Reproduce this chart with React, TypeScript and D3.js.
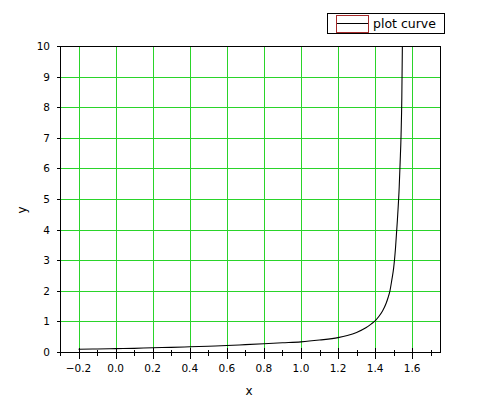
import React from "react";
import * as d3 from "d3";

const xValues = [-0.2, -0.1, 0, 0.1, 0.2, 0.3, 0.4, 0.5, 0.6, 0.7, 0.8, 0.9, 1.0, 1.1, 1.2, 1.25, 1.3, 1.35, 1.38, 1.4, 1.42, 1.44, 1.46, 1.47, 1.48, 1.49, 1.5, 1.51, 1.52, 1.53, 1.535, 1.54, 1.544, 1.547, 1.549];
const yValues = [0.088, 0.1, 0.11, 0.12, 0.14, 0.15, 0.17, 0.19, 0.21, 0.24, 0.27, 0.3, 0.33, 0.39, 0.47, 0.54, 0.64, 0.79, 0.92, 1.02, 1.16, 1.34, 1.6, 1.78, 2.0, 2.35, 2.75, 3.4, 4.3, 5.4, 6.2, 7.1, 8.3, 10, 11.5];
const xMajorTicks = [-0.2, 0, 0.2, 0.4, 0.6, 0.8, 1.0, 1.2, 1.4, 1.6];
const xMinorTicks = [-0.3, -0.1, 0.1, 0.3, 0.5, 0.7, 0.9, 1.1, 1.3, 1.5, 1.7];
const yTicks = [0, 1, 2, 3, 4, 5, 6, 7, 8, 9, 10];
const xDomain = [-0.3, 1.75];
const yDomain = [0, 10];
const seriesName = "plot curve";

const W = 489, H = 402;
const L = 60, R = 440, T = 46, B = 352;
const font = "'DejaVu Sans', Verdana, sans-serif";
const gridColor = "#2ad42a";

export default function App() {
  const x = d3.scaleLinear().domain(xDomain).range([L, R]);
  const y = d3.scaleLinear().domain(yDomain).range([B, T]);
  const data = xValues.map((v, i) => [v, yValues[i]] as [number, number]);
  const line = d3.line<[number, number]>().x(d => x(d[0])).y(d => y(d[1])).curve(d3.curveMonotoneX);
  const px = (v: number) => Math.round(x(v)) + 0.5;
  const py = (v: number) => Math.round(y(v)) + 0.5;
  return (
    <svg width={W} height={H} style={{ position: "absolute", left: 0, top: 0, background: "#fff" }}>
      <defs>
        <clipPath id="plotclip">
          <rect x={L} y={T} width={R - L} height={B - T} />
        </clipPath>
      </defs>
      <rect x={0} y={0} width={W} height={H} fill="#fff" />
      {/* grid */}
      <g shapeRendering="crispEdges">
        {xMajorTicks.map(t => (
          <line key={"gx" + t} x1={px(t)} x2={px(t)} y1={T} y2={B} stroke={gridColor} strokeWidth={1} />
        ))}
        {yTicks.filter(t => t > 0 && t < 10).map(t => (
          <line key={"gy" + t} x1={L} x2={R} y1={py(t)} y2={py(t)} stroke={gridColor} strokeWidth={1} />
        ))}
      </g>
      {/* curve */}
      <path d={line(data) || ""} fill="none" stroke="#000" strokeWidth={1.1} clipPath="url(#plotclip)" />
      {/* frame */}
      <g shapeRendering="crispEdges">
        <rect x={L + 0.5} y={T + 0.5} width={R - L} height={B - T} fill="none" stroke="#000" strokeWidth={1} />
        {xMajorTicks.map(t => (
          <line key={"tx" + t} x1={px(t)} x2={px(t)} y1={B - 4} y2={B + 7} stroke="#000" strokeWidth={1} />
        ))}
        {xMinorTicks.map(t => (
          <line key={"mx" + t} x1={px(t)} x2={px(t)} y1={B - 2} y2={B + 4} stroke="#000" strokeWidth={1} />
        ))}
        {yTicks.map(t => (
          <line key={"ty" + t} x1={L - 3} x2={L} y1={py(t)} y2={py(t)} stroke="#000" strokeWidth={1} />
        ))}
      </g>
      {xMajorTicks.map(t => (
        <text key={"lx" + t} x={x(t)} y={372} textAnchor="middle" fontFamily={font} fontSize={10.5} fill="#000">
          {d3.format(".1f")(t)}
        </text>
      ))}
      {yTicks.map(t => (
        <text key={"ly" + t} x={50} y={y(t) + 4} textAnchor="end" fontFamily={font} fontSize={10.5} fill="#000">
          {t}
        </text>
      ))}
      {/* axis titles */}
      <text x={249} y={395} textAnchor="middle" fontFamily={font} fontSize={12} fill="#000">x</text>
      <text transform="translate(26,210) rotate(-90)" textAnchor="middle" fontFamily={font} fontSize={12} fill="#000">y</text>
      {/* legend */}
      <g shapeRendering="crispEdges">
        <rect x={327.5} y={13.5} width={117} height={20} fill="#fff" stroke="#000" strokeWidth={1} />
        <rect x={336.5} y={15.5} width={32} height={17} fill="none" stroke="#a52a2a" strokeWidth={1} />
        <line x1={337} x2={368} y1={23.5} y2={23.5} stroke="#000" strokeWidth={1} />
      </g>
      <text x={373} y={28} fontFamily={font} fontSize={12.5} fill="#000">{seriesName}</text>
    </svg>
  );
}
